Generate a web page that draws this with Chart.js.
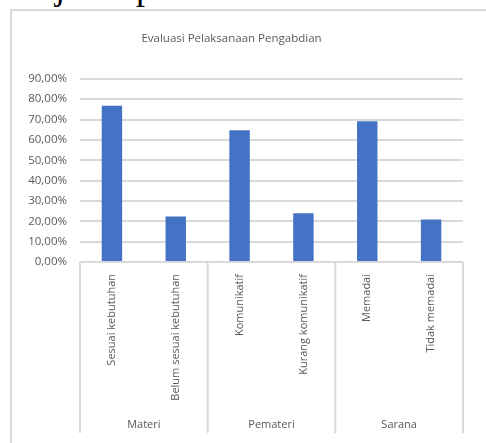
<!DOCTYPE html>
<html>
<head>
<meta charset="utf-8">
<script src="https://cdn.jsdelivr.net/npm/chart.js@4"></script>
<style>
  html, body { margin: 0; padding: 0; background: #fff; }
  body { width: 486px; height: 443px; position: relative; overflow: hidden; }
  #header { position: absolute; left: -3px; top: -31px; line-height: 1; font-family: "Liberation Serif", serif; font-size: 36px; color: #000; white-space: nowrap; }
  #frame { position: absolute; left: 10px; top: 9px; width: 500px; height: 460px; border-left: 2px solid #d9d9d9; border-top: 2px solid #d9d9d9; background: #fff; }
  #wrap { position: absolute; left: 0; top: 0; width: 486px; height: 443px; }
</style>
</head>
<body>
<div id="header">disajikan pada Gambar 1.</div>
<div id="frame"></div>
<div id="wrap"><canvas id="c" width="486" height="443"></canvas></div>
<script>
const title = "Evaluasi Pelaksanaan Pengabdian";
const groups = ["Materi", "Pemateri", "Sarana"];
const groupSizes = [2, 2, 2];
const categories = ["Sesuai kebutuhan", "Belum sesuai kebutuhan", "Komunikatif", "Kurang komunikatif", "Memadai", "Tidak memadai"];
const values = [76.8, 22.3, 64.7, 24.0, 69.1, 20.9];
const yTicks = [0, 10, 20, 30, 40, 50, 60, 70, 80, 90];

const groupPlugin = {
  id: 'groupAxis',
  afterDraw(chart) {
    const ctx = chart.ctx;
    const x = chart.scales.x;
    const top = chart.chartArea.bottom;
    const bottom = 433;
    const step = x.getPixelForValue(1) - x.getPixelForValue(0);
    ctx.save();
    ctx.strokeStyle = '#d9d9d9';
    ctx.lineWidth = 2;
    let idx = 0;
    const bounds = [x.getPixelForValue(0) - step / 2];
    groupSizes.forEach(n => { idx += n; bounds.push(x.getPixelForValue(idx - 1) + step / 2); });
    bounds.forEach(b => {
      ctx.beginPath();
      ctx.moveTo(b, top);
      ctx.lineTo(b, bottom);
      ctx.stroke();
    });
    ctx.fillStyle = '#595959';
    ctx.font = '11px "Open Sans"';
    ctx.textAlign = 'center';
    ctx.textBaseline = 'middle';
    groups.forEach((g, i) => {
      ctx.fillText(g, (bounds[i] + bounds[i + 1]) / 2, 425);
    });
    ctx.restore();
  }
};

new Chart(document.getElementById('c'), {
  type: 'bar',
  data: {
    labels: categories,
    datasets: [{
      data: values,
      backgroundColor: '#4472C4',
      borderWidth: 0,
      categoryPercentage: 1,
      barPercentage: 0.32
    }]
  },
  options: {
    responsive: false,
    animation: false,
    layout: { padding: { left: 0, right: 23, top: 0, bottom: 0 } },
    plugins: {
      legend: { display: false },
      tooltip: { enabled: false },
      title: {
        display: true,
        text: title,
        color: '#595959',
        font: { family: 'Open Sans', size: 11.5, weight: 'normal' },
        padding: { top: 32, bottom: 33 }
      }
    },
    scales: {
      y: {
        min: 0,
        max: 90,
        afterBuildTicks(scale) { scale.ticks = yTicks.map(v => ({ value: v })); },
        afterFit(scale) { scale.width = 80; },
        border: { display: false },
        grid: { color: '#d9d9d9', lineWidth: 2, drawTicks: false },
        ticks: {
          color: '#595959',
          font: { family: 'Open Sans', size: 11.5 },
          padding: 13,
          callback: v => v.toFixed(2).replace('.', ',') + '%'
        }
      },
      x: {
        afterFit(scale) { scale.height = 181; },
        border: { display: false },
        grid: { display: false, drawTicks: false },
        ticks: {
          color: '#595959',
          font: { family: 'Open Sans', size: 11 },
          minRotation: 90,
          maxRotation: 90,
          padding: 12,
          autoSkip: false
        }
      }
    }
  },
  plugins: [groupPlugin]
});
</script>
</body>
</html>
